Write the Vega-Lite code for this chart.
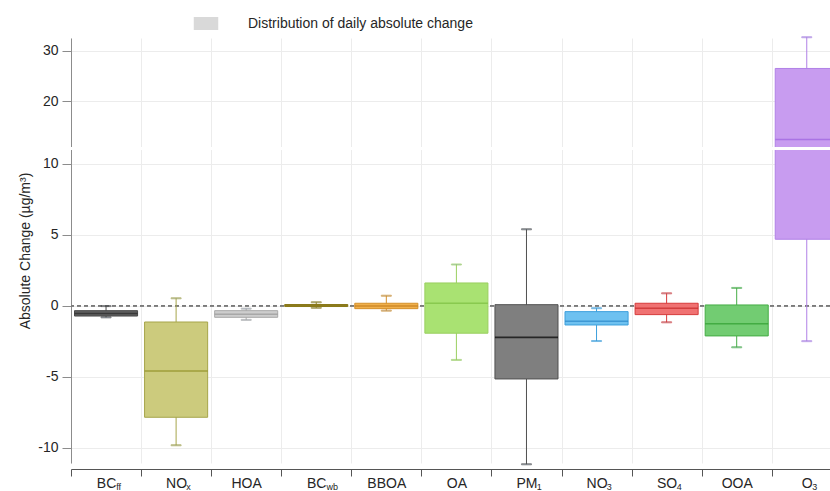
{
  "$schema": "https://vega.github.io/schema/vega-lite/v6.json",
  "width": 759,
  "height": 425,
  "autosize": {"type": "none"},
  "padding": {"left": 71, "top": 38, "right": 0, "bottom": 28},
  "config": {
    "view": {"stroke": null},
    "font": "Liberation Sans",
    "axis": {"labelColor": "#262626", "titleColor": "#262626"}
  },
  "datasets": {
    "boxes": [
      {"species": "BC_ff", "sub": "ff", "lo": -0.82, "q1": -0.73, "med": -0.55, "q3": -0.35, "hi": -0.03},
      {"species": "NO_x", "sub": "x", "lo": -9.83, "q1": -7.86, "med": -4.6, "q3": -1.15, "hi": 0.52},
      {"species": "HOA", "sub": "", "lo": -1.0, "q1": -0.82, "med": -0.6, "q3": -0.35, "hi": -0.21},
      {"species": "BC_wb", "sub": "wb", "lo": -0.15, "q1": -0.06, "med": 0.02, "q3": 0.08, "hi": 0.24},
      {"species": "BBOA", "sub": "", "lo": -0.35, "q1": -0.21, "med": -0.02, "q3": 0.17, "hi": 0.7},
      {"species": "OA", "sub": "", "lo": -3.82, "q1": -1.94, "med": 0.17, "q3": 1.6, "hi": 2.9},
      {"species": "PM_1", "sub": "1", "lo": -11.17, "q1": -5.16, "med": -2.23, "q3": 0.07, "hi": 5.38},
      {"species": "NO_3", "sub": "3", "lo": -2.49, "q1": -1.36, "med": -1.1, "q3": -0.42, "hi": -0.18},
      {"species": "SO_4", "sub": "4", "lo": -1.17, "q1": -0.63, "med": -0.18, "q3": 0.17, "hi": 0.87},
      {"species": "OOA", "sub": "", "lo": -2.93, "q1": -2.13, "med": -1.27, "q3": 0.05, "hi": 1.25},
      {"species": "O_3", "sub": "3", "lo": -2.5, "q1": 4.68, "med": 12.4, "q3": 26.5, "hi": 32.7}
    ]
  },
  "data": {"name": "boxes"},
  "layer": [
    {
      "mark": {"type": "rule", "strokeDash": [4, 3], "color": "#7a7a7a", "strokeWidth": 1},
      "encoding": {
        "y": {"datum": 0, "type": "quantitative",
          "scale": {"type": "linear", "domain": [-11.08, 10.9, 11.1, 32.55], "range": [425, 112.9, 108, 0], "nice": false, "zero": false},
          "axis": {
            "values": [-10, -5, 0, 5, 10, 20, 30],
            "labelExpr": "replace(datum.label, '\u2212', '-')",
            "title": "Absolute Change (µg/m³)",
            "titleFontSize": 14, "titleFontWeight": "normal", "titlePadding": 5,
            "labelFontSize": 14, "labelPadding": 4, "tickSize": 9,
            "domainColor": "#8c8c8c", "tickColor": "#8c8c8c", "grid": true, "gridColor": "#ececec"
          }}
      }
    },
    {
      "mark": {"type": "rule", "strokeWidth": 1},
      "encoding": {
        "x": {"field": "species", "type": "nominal",
          "scale": {"type": "band", "domain": ["BC_ff", "NO_x", "HOA", "BC_wb", "BBOA", "OA", "PM_1", "NO_3", "SO_4", "OOA", "O_3"], "range": [0, 770.8], "paddingInner": 0, "paddingOuter": 0},
          "axis": {
            "title": null, "offset": 6, "tickBand": "extent", "tickSize": 7,
            "tickColor": "#555555", "domainColor": "#555555", "grid": true, "gridColor": "#ececec",
            "labelAngle": 0, "labelFontSize": 14, "labelPadding": 0,
            "labelExpr": "isValid(datum.value) ? split(datum.value, '_')[0] : ''"
          }},
        "y": {"field": "lo", "type": "quantitative"},
        "y2": {"field": "hi"},
        "stroke": {"field": "species", "type": "nominal", "legend": null,
          "scale": {"domain": ["BC_ff", "NO_x", "HOA", "BC_wb", "BBOA", "OA", "PM_1", "NO_3", "SO_4", "OOA", "O_3"],
            "range": ["#4a4a4a", "#a6a54a", "#a9a9a9", "#8f7f1d", "#d4902a", "#9acf60", "#505050", "#3c9fdc", "#d63b3b", "#46ad46", "#b080e6"]}}
      }
    },
    {
      "mark": {"type": "tick", "size": 10, "thickness": 1},
      "encoding": {
        "x": {"field": "species", "type": "nominal"},
        "y": {"field": "lo", "type": "quantitative"},
        "stroke": {"field": "species", "type": "nominal", "legend": null}
      }
    },
    {
      "mark": {"type": "tick", "size": 10, "thickness": 1},
      "encoding": {
        "x": {"field": "species", "type": "nominal"},
        "y": {"field": "hi", "type": "quantitative"},
        "stroke": {"field": "species", "type": "nominal", "legend": null}
      }
    },
    {
      "mark": {"type": "bar", "width": {"band": 0.9}, "strokeWidth": 1, "fillOpacity": 1},
      "encoding": {
        "x": {"field": "species", "type": "nominal"},
        "y": {"field": "q1", "type": "quantitative"},
        "y2": {"field": "q3"},
        "fill": {"field": "species", "type": "nominal", "legend": null,
          "scale": {"domain": ["BC_ff", "NO_x", "HOA", "BC_wb", "BBOA", "OA", "PM_1", "NO_3", "SO_4", "OOA", "O_3"],
            "range": ["#5f5f5f", "#cccb7d", "#cdcdcd", "#b5a23a", "#f0b04c", "#a9e272", "#7f7f7f", "#6ec1f0", "#f07272", "#72cc72", "#c89cf0"]}},
        "stroke": {"field": "species", "type": "nominal", "legend": null}
      }
    },
    {
      "mark": {"type": "tick", "size": 63, "thickness": 1.6},
      "encoding": {
        "x": {"field": "species", "type": "nominal"},
        "y": {"field": "med", "type": "quantitative"},
        "color": {"field": "species", "type": "nominal", "legend": null,
          "scale": {"domain": ["BC_ff", "NO_x", "HOA", "BC_wb", "BBOA", "OA", "PM_1", "NO_3", "SO_4", "OOA", "O_3"],
            "range": ["#2a2a2a", "#8c8b1e", "#999999", "#7a6a10", "#c07a18", "#7cbf40", "#000000", "#2a86c8", "#c42828", "#2f9e2f", "#9d62e0"]}}
      }
    },
    {
      "mark": {"type": "rule", "color": "#ffffff", "strokeWidth": 2},
      "encoding": {
        "y": {"datum": 11, "type": "quantitative"}
      }
    },
    {
      "transform": [{"filter": "datum.species != 'O_3'"}],
      "mark": {"type": "text", "align": "left", "baseline": "alphabetic", "fontSize": 9, "dx": 10.2, "dy": 27, "color": "#262626"},
      "encoding": {
        "x": {"field": "species", "type": "nominal"},
        "y": {"datum": -11.08, "type": "quantitative"},
        "text": {"field": "sub"}
      }
    },
    {
      "transform": [{"filter": "datum.species == 'O_3'"}],
      "mark": {"type": "text", "align": "left", "baseline": "alphabetic", "fontSize": 9, "dx": 5.5, "dy": 27, "color": "#262626"},
      "encoding": {
        "x": {"field": "species", "type": "nominal"},
        "y": {"datum": -11.08, "type": "quantitative"},
        "text": {"field": "sub"}
      }
    },
    {
      "mark": {"type": "point", "filled": false, "fill": "#d9d9d9", "stroke": "#595959", "strokeWidth": 1, "opacity": 0},
      "encoding": {
        "x": {"field": "species", "type": "nominal"},
        "y": {"field": "med", "type": "quantitative"},
        "shape": {
          "datum": "Distribution of daily absolute change",
          "scale": {"range": ["M-1,0H-0.5M0.5,0H1M-1,-0.18V0.18M1,-0.18V0.18M-0.5,-0.27H0.5V0.27H-0.5ZM-0.04,-0.27V0.27"]},
          "legend": {
            "orient": "none", "legendX": 110, "legendY": -39.5, "title": null, "padding": 0,
            "symbolSize": 2401, "symbolOpacity": 1, "symbolFillColor": "#d9d9d9",
            "symbolStrokeColor": "#595959", "symbolStrokeWidth": 1,
            "labelFontSize": 14, "labelOffset": 17, "labelLimit": 400, "labelColor": "#262626"
          }
        }
      }
    }
  ]
}
